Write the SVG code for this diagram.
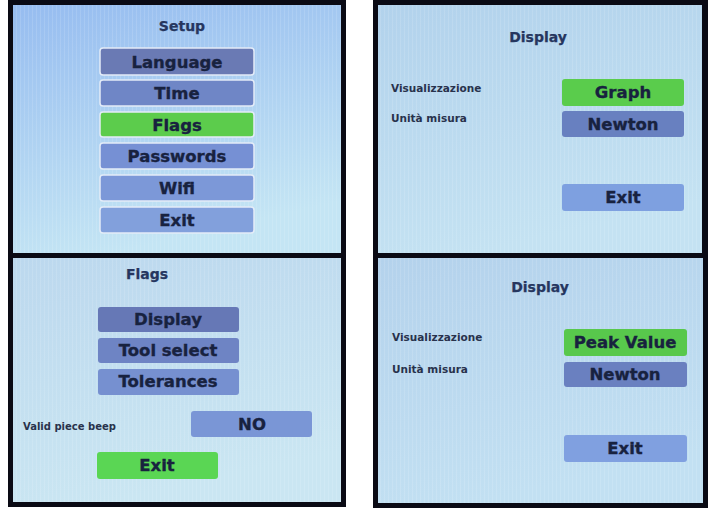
<svg xmlns="http://www.w3.org/2000/svg" width="710" height="508" viewBox="0 0 710 508">
<defs>
<linearGradient id="gSetup" x1="0" y1="0" x2="0.3" y2="1">
<stop offset="0" stop-color="#96bcf0"/>
<stop offset="0.6" stop-color="#b2d5f2"/>
<stop offset="1" stop-color="#c4e5f4"/>
</linearGradient>
<linearGradient id="gFlags" x1="0" y1="0" x2="0.3" y2="1">
<stop offset="0" stop-color="#bcd8ee"/>
<stop offset="1" stop-color="#cae6f2"/>
</linearGradient>
<linearGradient id="gDisp1" x1="0" y1="0" x2="0.3" y2="1">
<stop offset="0" stop-color="#b2d2ec"/>
<stop offset="1" stop-color="#c4e2f2"/>
</linearGradient>
<linearGradient id="gDisp2" x1="0" y1="0" x2="0.3" y2="1">
<stop offset="0" stop-color="#b4d2ec"/>
<stop offset="1" stop-color="#c2e0f2"/>
</linearGradient>
<pattern id="stripes" width="4" height="8" patternUnits="userSpaceOnUse">
<rect x="0" y="0" width="1" height="8" fill="#ffffff" opacity="0.12"/>
</pattern>
</defs>
<style>
.frame{fill:#0a0a14}
.btn{stroke:#e4ecf8;stroke-width:1.5}
.bt{font-family:"DejaVu Sans",Verdana,sans-serif;font-weight:bold;font-size:16.5px;fill:#18223f;stroke:#18223f;stroke-width:0.35;text-anchor:middle}
.title{font-family:"DejaVu Sans",Verdana,sans-serif;font-weight:bold;font-size:14px;fill:#26365f;stroke:#26365f;stroke-width:0.25;text-anchor:middle}
.lbl{font-family:"DejaVu Sans",Verdana,sans-serif;font-weight:bold;font-size:10.5px;fill:#28324c}
</style>
<rect width="710" height="508" fill="#ffffff"/>

<!-- frames -->
<rect class="frame" x="8" y="0" width="338" height="507"/>
<rect class="frame" x="373" y="0" width="335" height="508"/>

<!-- Setup screen -->
<g id="setup">
<rect x="13" y="5" width="328" height="248" fill="url(#gSetup)"/>
<rect x="13" y="5" width="328" height="248" fill="url(#stripes)"/>
<text class="title" x="182" y="31">Setup</text>
<g id="setup-language"><rect class="btn" x="100" y="48" width="154" height="27" rx="3" fill="#6a7ab4"/><text class="bt" x="177" y="68">Language</text></g>
<g id="setup-time"><rect class="btn" x="100" y="80" width="154" height="26" rx="3" fill="#6f86c6"/><text class="bt" x="177" y="99">Time</text></g>
<g id="setup-flags"><rect class="btn" x="100" y="112" width="154" height="25" rx="3" fill="#5ccc4c"/><text class="bt" x="177" y="131">Flags</text></g>
<g id="setup-passwords"><rect class="btn" x="100" y="143" width="154" height="26" rx="3" fill="#7690d4"/><text class="bt" x="177" y="162">Passwords</text></g>
<g id="setup-wifi"><rect class="btn" x="100" y="175" width="154" height="26" rx="3" fill="#7c98d8"/><text class="bt" x="177" y="194">Wifi</text></g>
<g id="setup-exit"><rect class="btn" x="100" y="207" width="154" height="26" rx="3" fill="#82a0dc"/><text class="bt" x="177" y="226">Exit</text></g>
</g>

<!-- Flags screen -->
<g id="flags">
<rect x="13" y="258" width="328" height="244" fill="url(#gFlags)"/>
<rect x="13" y="258" width="328" height="244" fill="url(#stripes)"/>
<text class="title" x="147" y="279">Flags</text>
<g id="flags-display"><rect x="98" y="307" width="141" height="25" rx="3" fill="#6678b6"/><text class="bt" x="168" y="325">Display</text></g>
<g id="flags-tool"><rect x="98" y="338" width="141" height="25" rx="3" fill="#6e84c4"/><text class="bt" x="168" y="356">Tool select</text></g>
<g id="flags-tolerances"><rect x="98" y="369" width="141" height="26" rx="3" fill="#7690d0"/><text class="bt" x="168" y="387">Tolerances</text></g>
<text class="lbl" x="23" y="430" style="font-size:10px">Valid piece beep</text>
<g id="flags-no"><rect x="191" y="411" width="121" height="26" rx="3" fill="#7a96d6"/><text class="bt" x="252" y="430">NO</text></g>
<g id="flags-exit"><rect x="97" y="452" width="121" height="27" rx="3" fill="#5ad654"/><text class="bt" x="157" y="471">Exit</text></g>
</g>

<!-- Display screen 1 -->
<g id="display1">
<rect x="378" y="5" width="324" height="248" fill="url(#gDisp1)"/>
<rect x="378" y="5" width="324" height="248" fill="url(#stripes)"/>
<text class="title" x="538" y="42">Display</text>
<text class="lbl" x="391" y="92">Visualizzazione</text>
<text class="lbl" x="391" y="122">Unità misura</text>
<g id="display1-graph"><rect x="562" y="79" width="122" height="27" rx="3" fill="#5acc4c"/><text class="bt" x="623" y="98">Graph</text></g>
<g id="display1-newton"><rect x="562" y="111" width="122" height="26" rx="3" fill="#6880c0"/><text class="bt" x="623" y="130">Newton</text></g>
<g id="display1-exit"><rect x="562" y="184" width="122" height="27" rx="3" fill="#7ea0e0"/><text class="bt" x="623" y="203">Exit</text></g>
</g>

<!-- Display screen 2 -->
<g id="display2">
<rect x="378" y="258" width="325" height="245" fill="url(#gDisp2)"/>
<rect x="378" y="258" width="325" height="245" fill="url(#stripes)"/>
<text class="title" x="540" y="292">Display</text>
<text class="lbl" x="392" y="341">Visualizzazione</text>
<text class="lbl" x="392" y="373">Unità misura</text>
<g id="display2-peak"><rect x="564" y="329" width="123" height="27" rx="3" fill="#58c84c"/><text class="bt" x="625" y="348">Peak Value</text></g>
<g id="display2-newton"><rect x="564" y="362" width="123" height="25" rx="3" fill="#6a80c0"/><text class="bt" x="625" y="380">Newton</text></g>
<g id="display2-exit"><rect x="564" y="435" width="123" height="27" rx="3" fill="#80a0e0"/><text class="bt" x="625" y="454">Exit</text></g>
</g>

<g id="connectors"></g>
</svg>
